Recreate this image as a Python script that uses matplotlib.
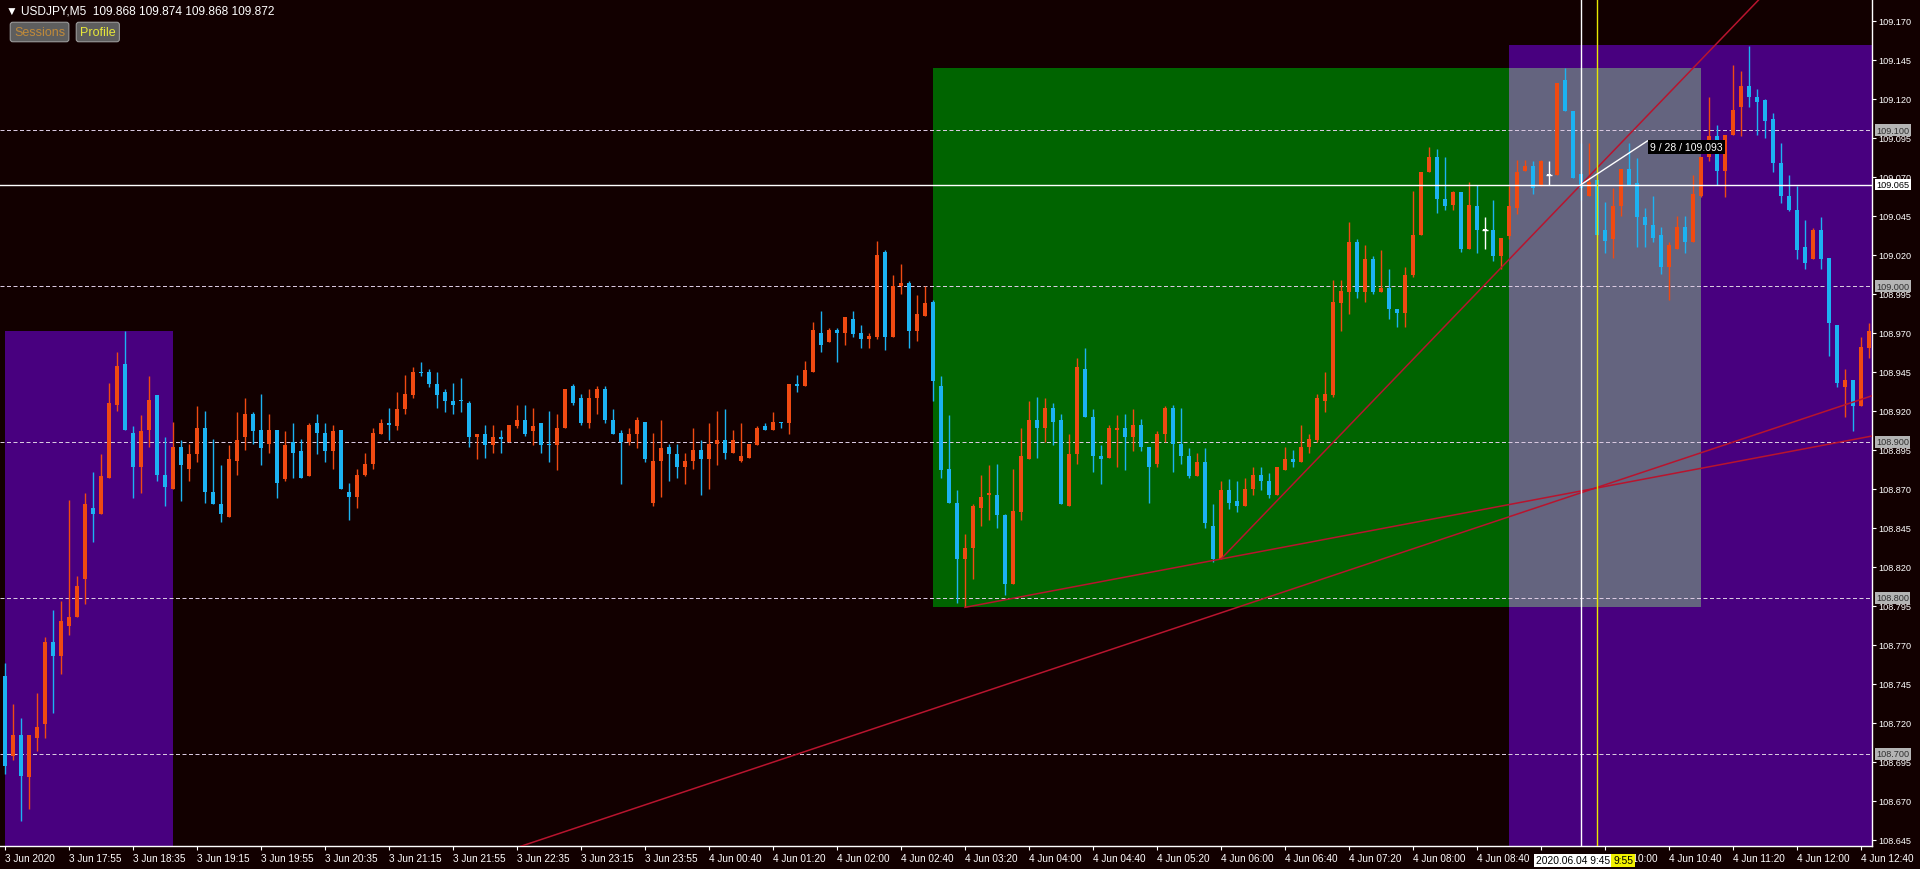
import matplotlib
matplotlib.use('Agg')
import matplotlib.pyplot as plt
from matplotlib.patches import Rectangle
from matplotlib.transforms import blended_transform_factory

plt.rcParams['font.family'] = ['Liberation Sans', 'DejaVu Sans']

# USDJPY M5 candles (bar 0 = 3 Jun 17:15)
opens = [108.750, 108.699, 108.712, 108.685, 108.710, 108.719, 108.772, 108.763, 108.782, 108.788,
         108.812, 108.858, 108.854, 108.877, 108.924, 108.950, 108.906, 108.884, 108.908, 108.930,
         108.879, 108.870, 108.897, 108.883, 108.892, 108.909, 108.868, 108.860, 108.852, 108.888,
         108.903, 108.918, 108.908, 108.899, 108.908, 108.876, 108.900, 108.894, 108.878, 108.912,
         108.906, 108.894, 108.908, 108.868, 108.865, 108.879, 108.886, 108.905, 108.912, 108.910,
         108.921, 108.930, 108.945, 108.945, 108.937, 108.932, 108.926, 108.927, 108.925, 108.903,
         108.905, 108.898, 108.903, 108.900, 108.910, 108.914, 108.907, 108.912, 108.899, 108.898,
         108.909, 108.936, 108.928, 108.912, 108.928, 108.934, 108.914, 108.906, 108.900, 108.905,
         108.913, 108.861, 108.888, 108.897, 108.892, 108.884, 108.888, 108.895, 108.889, 108.899,
         108.901, 108.893, 108.888, 108.890, 108.898, 108.910, 108.908, 108.913, 108.912, 108.937,
         108.936, 108.945, 108.970, 108.964, 108.972, 108.970, 108.979, 108.970, 108.966, 108.967,
         109.022, 108.967, 109.000, 109.002, 108.971, 108.981, 108.990, 108.936, 108.883, 108.861,
         108.825, 108.832, 108.858, 108.866, 108.866, 108.853, 108.809, 108.855, 108.889, 108.914,
         108.909, 108.922, 108.914, 108.859, 108.892, 108.947, 108.916, 108.891, 108.890, 108.908,
         108.909, 108.903, 108.911, 108.897, 108.886, 108.905, 108.922, 108.899, 108.891, 108.878,
         108.887, 108.846, 108.825, 108.869, 108.862, 108.859, 108.870, 108.879, 108.875, 108.866,
         108.882, 108.889, 108.887, 108.897, 108.901, 108.926, 108.930, 108.989, 108.996, 109.028,
         108.996, 109.017, 108.996, 108.999, 108.985, 108.983, 109.007, 109.033, 109.073, 109.083,
         109.056, 109.052, 109.060, 109.024, 109.051, 109.036, 109.036, 109.019, 109.032, 109.050,
         109.074, 109.077, 109.064, 109.071, 109.071, 109.132, 109.112, 109.072, 109.058, 109.068,
         109.036, 109.030, 109.051, 109.075, 109.066, 109.044, 109.039, 109.033, 109.012, 109.024,
         109.038, 109.028, 109.058, 109.083, 109.096, 109.074, 109.097, 109.115, 109.128, 109.121,
         109.119, 109.107, 109.079, 109.058, 109.049, 109.025, 109.017, 109.036, 109.018, 108.975,
         108.935, 108.940, 108.923, 108.960]
highs = [108.758, 108.732, 108.723, 108.712, 108.739, 108.775, 108.792, 108.798, 108.863, 108.814,
         108.867, 108.881, 108.892, 108.938, 108.958, 108.971, 108.910, 108.917, 108.942, 108.930,
         108.903, 108.913, 108.901, 108.899, 108.923, 108.920, 108.902, 108.885, 108.898, 108.919,
         108.928, 108.919, 108.931, 108.918, 108.908, 108.907, 108.912, 108.902, 108.912, 108.918,
         108.912, 108.911, 108.908, 108.874, 108.883, 108.893, 108.909, 108.915, 108.922, 108.932,
         108.943, 108.948, 108.951, 108.947, 108.945, 108.934, 108.938, 108.941, 108.926, 108.905,
         108.911, 108.911, 108.908, 108.911, 108.924, 108.924, 108.922, 108.912, 108.920, 108.918,
         108.934, 108.937, 108.931, 108.934, 108.936, 108.936, 108.921, 108.908, 108.909, 108.916,
         108.913, 108.906, 108.914, 108.899, 108.899, 108.893, 108.909, 108.901, 108.912, 108.920,
         108.921, 108.908, 108.912, 108.899, 108.910, 108.912, 108.919, 108.913, 108.937, 108.943,
         108.952, 108.977, 108.984, 108.973, 108.973, 108.980, 108.984, 108.975, 108.970, 109.029,
         109.023, 109.007, 109.014, 109.003, 108.994, 109.000, 108.991, 108.942, 108.917, 108.869,
         108.841, 108.860, 108.879, 108.885, 108.886, 108.854, 108.883, 108.909, 108.926, 108.929,
         108.928, 108.925, 108.918, 108.905, 108.954, 108.960, 108.921, 108.898, 108.911, 108.917,
         108.918, 108.921, 108.915, 108.897, 108.907, 108.923, 108.924, 108.922, 108.896, 108.893,
         108.896, 108.860, 108.875, 108.876, 108.875, 108.877, 108.884, 108.884, 108.880, 108.884,
         108.897, 108.895, 108.911, 108.905, 108.931, 108.945, 109.004, 109.004, 109.041, 109.030,
         109.026, 109.019, 109.023, 109.011, 108.985, 109.012, 109.061, 109.073, 109.089, 109.088,
         109.083, 109.061, 109.060, 109.067, 109.065, 109.044, 109.055, 109.031, 109.064, 109.081,
         109.081, 109.080, 109.081, 109.080, 109.130, 109.140, 109.112, 109.092, 109.092, 109.072,
         109.054, 109.063, 109.075, 109.092, 109.082, 109.050, 109.058, 109.038, 109.028, 109.045,
         109.045, 109.071, 109.083, 109.121, 109.103, 109.097, 109.142, 109.138, 109.154, 109.126,
         109.120, 109.111, 109.092, 109.071, 109.064, 109.042, 109.037, 109.044, 109.018, 108.975,
         108.947, 108.940, 108.967, 108.976]
lows = [108.687, 108.696, 108.657, 108.665, 108.702, 108.710, 108.726, 108.751, 108.776, 108.788,
        108.796, 108.836, 108.854, 108.877, 108.920, 108.908, 108.864, 108.867, 108.897, 108.875,
        108.859, 108.870, 108.862, 108.875, 108.887, 108.861, 108.860, 108.849, 108.852, 108.879,
        108.895, 108.899, 108.885, 108.893, 108.864, 108.875, 108.877, 108.877, 108.878, 108.892,
        108.887, 108.883, 108.870, 108.850, 108.858, 108.878, 108.883, 108.905, 108.901, 108.908,
        108.918, 108.928, 108.942, 108.935, 108.922, 108.919, 108.918, 108.919, 108.897, 108.889,
        108.890, 108.893, 108.893, 108.900, 108.909, 108.904, 108.898, 108.893, 108.887, 108.882,
        108.909, 108.924, 108.911, 108.909, 108.918, 108.912, 108.905, 108.873, 108.898, 108.896,
        108.887, 108.859, 108.865, 108.875, 108.877, 108.873, 108.883, 108.866, 108.870, 108.885,
        108.889, 108.893, 108.887, 108.890, 108.898, 108.908, 108.908, 108.909, 108.905, 108.932,
        108.936, 108.945, 108.958, 108.964, 108.951, 108.962, 108.967, 108.960, 108.960, 108.966,
        108.959, 108.967, 108.995, 108.960, 108.965, 108.981, 108.926, 108.877, 108.861, 108.797,
        108.794, 108.812, 108.846, 108.850, 108.845, 108.802, 108.809, 108.850, 108.889, 108.890,
        108.900, 108.898, 108.860, 108.859, 108.886, 108.916, 108.881, 108.873, 108.890, 108.884,
        108.882, 108.894, 108.894, 108.861, 108.884, 108.900, 108.881, 108.886, 108.877, 108.878,
        108.845, 108.823, 108.825, 108.857, 108.855, 108.859, 108.866, 108.869, 108.864, 108.866,
        108.882, 108.884, 108.887, 108.893, 108.900, 108.919, 108.929, 108.971, 108.982, 108.992,
        108.990, 108.995, 108.996, 108.979, 108.974, 108.974, 109.006, 109.033, 109.073, 109.047,
        109.049, 109.049, 109.022, 109.024, 109.021, 109.024, 109.016, 109.011, 109.030, 109.046,
        109.074, 109.059, 109.064, 109.065, 109.071, 109.112, 109.069, 109.055, 109.058, 109.033,
        109.021, 109.018, 109.045, 109.065, 109.025, 109.025, 109.028, 109.008, 108.991, 109.024,
        109.021, 109.028, 109.057, 109.080, 109.065, 109.057, 109.097, 109.096, 109.115, 109.097,
        109.095, 109.073, 109.053, 109.048, 109.017, 109.011, 109.017, 109.011, 108.955, 108.935,
        108.916, 108.907, 108.923, 108.954]
closes = [108.692, 108.712, 108.686, 108.712, 108.717, 108.772, 108.763, 108.785, 108.788, 108.808,
          108.860, 108.854, 108.878, 108.925, 108.949, 108.908, 108.884, 108.907, 108.927, 108.879,
          108.871, 108.897, 108.885, 108.892, 108.909, 108.868, 108.860, 108.854, 108.889, 108.901,
          108.918, 108.907, 108.896, 108.908, 108.874, 108.898, 108.893, 108.877, 108.911, 108.906,
          108.894, 108.907, 108.870, 108.865, 108.879, 108.886, 108.906, 108.912, 108.911, 108.921,
          108.931, 108.945, 108.944, 108.937, 108.930, 108.926, 108.924, 108.926, 108.903, 108.905,
          108.898, 108.903, 108.902, 108.911, 108.914, 108.905, 108.910, 108.898, 108.898, 108.909,
          108.934, 108.925, 108.912, 108.928, 108.934, 108.914, 108.905, 108.900, 108.905, 108.914,
          108.889, 108.888, 108.896, 108.892, 108.884, 108.888, 108.895, 108.889, 108.899, 108.901,
          108.893, 108.901, 108.891, 108.899, 108.909, 108.908, 108.913, 108.912, 108.937, 108.936,
          108.946, 108.972, 108.962, 108.972, 108.970, 108.980, 108.969, 108.966, 108.968, 109.020,
          108.967, 109.000, 109.002, 108.971, 108.982, 108.989, 108.939, 108.882, 108.861, 108.825,
          108.832, 108.859, 108.865, 108.867, 108.853, 108.809, 108.856, 108.891, 108.914, 108.909,
          108.922, 108.913, 108.860, 108.892, 108.948, 108.916, 108.891, 108.889, 108.909, 108.909,
          108.903, 108.911, 108.897, 108.884, 108.905, 108.922, 108.899, 108.891, 108.878, 108.887,
          108.848, 108.825, 108.869, 108.861, 108.859, 108.870, 108.879, 108.875, 108.866, 108.884,
          108.889, 108.887, 108.897, 108.902, 108.928, 108.931, 108.990, 108.997, 109.028, 108.996,
          109.017, 108.996, 108.999, 108.985, 108.983, 109.007, 109.033, 109.073, 109.083, 109.056,
          109.051, 109.060, 109.024, 109.052, 109.036, 109.036, 109.019, 109.031, 109.051, 109.073,
          109.077, 109.063, 109.080, 109.071, 109.130, 109.112, 109.069, 109.063, 109.067, 109.033,
          109.029, 109.051, 109.075, 109.065, 109.044, 109.039, 109.031, 109.012, 109.026, 109.038,
          109.028, 109.059, 109.083, 109.096, 109.074, 109.097, 109.113, 109.128, 109.121, 109.118,
          109.106, 109.079, 109.058, 109.049, 109.023, 109.015, 109.036, 109.017, 108.976, 108.938,
          108.940, 108.923, 108.961, 108.971]

# time axis labels (one every 8 bars)
time_labels = ['3 Jun 2020', '3 Jun 17:55', '3 Jun 18:35', '3 Jun 19:15', '3 Jun 19:55',
               '3 Jun 20:35', '3 Jun 21:15', '3 Jun 21:55', '3 Jun 22:35', '3 Jun 23:15',
               '3 Jun 23:55', '4 Jun 00:40', '4 Jun 01:20', '4 Jun 02:00', '4 Jun 02:40',
               '4 Jun 03:20', '4 Jun 04:00', '4 Jun 04:40', '4 Jun 05:20', '4 Jun 06:00',
               '4 Jun 06:40', '4 Jun 07:20', '4 Jun 08:00', '4 Jun 08:40', '4 Jun 09:20',
               '4 Jun 10:00', '4 Jun 10:40', '4 Jun 11:20', '4 Jun 12:00', '4 Jun 12:40']

price_ticks = [109.170, 109.145, 109.120, 109.095, 109.070, 109.045, 109.020, 108.995,
               108.970, 108.945, 108.920, 108.895, 108.870, 108.845, 108.820, 108.795,
               108.770, 108.745, 108.720, 108.695, 108.670, 108.645]
level_lines = [109.100, 109.000, 108.900, 108.800, 108.700]

# session boxes: (first bar, last bar, low, high)
session_left = (0, 21, 108.500, 108.971)
session_green = (116, 212, 108.794, 109.140)
session_right = (188, 240, 108.500, 109.1545)

# trend lines: two anchor points (bar, price)
trend_a = [(120, 108.794), (152, 108.825)]
trend_b = [(152, 108.825), (197, 109.065)]
trend_c = [(64, 108.640), (233, 108.929)]

cross_bar, cross_price = 197, 109.065
marker_bar = 199
measure_end = (205.3, 109.093)

BG = '#120000'
UP = '#F04A12'
DOWN = '#1CB2F2'
INDIGO = '#48007F'
GREEN = '#006400'
OVERLAP = '#64647F'
TREND = '#B8142E'
LEVEL = '#D8C8E0'

fig = plt.figure(figsize=(19.2, 8.7), dpi=100, facecolor=BG)
ax = fig.add_axes([0, 23 / 870, 1872 / 1920, 1 - 23 / 870])
ax.set_facecolor(BG)
ax.set_xlim(-0.625, 233.375)
ax.set_ylim(108.641, 109.184)

# session rectangles
for (x0, x1, lo, hi), col in [(session_left, INDIGO), (session_green, GREEN), (session_right, INDIGO)]:
    ax.add_patch(Rectangle((x0, lo), x1 - x0, hi - lo, facecolor=col, edgecolor='none', zorder=1))
ov_x0 = session_right[0]
ov_x1 = session_green[1]
ax.add_patch(Rectangle((ov_x0, session_green[2]), ov_x1 - ov_x0, session_green[3] - session_green[2],
                       facecolor=OVERLAP, edgecolor='none', zorder=1.1))

for lvl in level_lines:
    ax.axhline(lvl, color=LEVEL, lw=0.72, ls=(0, (4, 2.5)), zorder=2)

# candles
xs = list(range(len(opens)))
cols = []
for o, c in zip(opens, closes):
    if c > o:
        cols.append(UP)
    elif c < o:
        cols.append(DOWN)
    else:
        cols.append('white')
ax.vlines(xs, lows, highs, colors=cols, lw=1.0, zorder=3)
body_lo = [min(o, c) for o, c in zip(opens, closes)]
body_h = [max(abs(c - o), 0.0008) for o, c in zip(opens, closes)]
ax.bar(xs, body_h, bottom=body_lo, width=0.6, color=cols, edgecolor='none', zorder=4)
for i, col in enumerate(cols):
    if col == 'white':
        ax.hlines(opens[i], i - 0.35, i + 0.35, colors='white', lw=1.0, zorder=4)

# trend lines
def draw_ray(pts, both=False):
    (x1, y1), (x2, y2) = pts
    k = (y2 - y1) / (x2 - x1)
    xa = -5 if both else x1
    xb = 260
    ax.plot([xa, xb], [y1 + k * (xa - x1), y1 + k * (xb - x1)], color=TREND, lw=1.1, zorder=5)

draw_ray(trend_a)
draw_ray(trend_b)
draw_ray(trend_c, both=True)

# crosshair
ax.axhline(cross_price, color='white', lw=1.0, zorder=6)
ax.axvline(cross_bar, color='white', lw=1.0, zorder=6)
ax.axvline(marker_bar, color='#E8E800', lw=1.0, zorder=6)
ax.plot([cross_bar, measure_end[0]], [cross_price, measure_end[1]], color='white', lw=1.0, zorder=6)
ax.text(measure_end[0] + 0.3, measure_end[1] - 0.0005, '9 / 28 / 109.093', color='white', fontsize=7.5,
        ha='left', va='top', zorder=7,
        bbox=dict(boxstyle='square,pad=0.2', fc='black', ec='none'))

# axes styling
for s in ['left', 'top']:
    ax.spines[s].set_visible(False)
for s in ['right', 'bottom']:
    ax.spines[s].set_color('white')
    ax.spines[s].set_linewidth(1.0)

ax.yaxis.tick_right()
ax.set_yticks(price_ticks)
ax.set_yticklabels(['%.3f' % p for p in price_ticks])
ax.tick_params(axis='y', colors='white', labelsize=6.6, length=3, width=0.8, pad=1.5, direction='out')

ax.set_xticks(range(0, 233, 8))
ax.set_xticklabels(time_labels, ha='left')
ax.tick_params(axis='x', colors='white', labelsize=7.2, length=3, width=0.8, pad=2, direction='out')
# the 09:20 label sits under the crosshair time box
ax.get_xticklabels()[24].set_visible(False)

yt = blended_transform_factory(ax.transAxes, ax.transData)
for lvl in level_lines:
    ax.text(1.0 + 4 / 1872, lvl, '%.3f' % lvl, transform=yt, ha='left', va='center', fontsize=6.6,
            color='#303030', zorder=8, clip_on=False,
            bbox=dict(boxstyle='square,pad=0.15', fc='#B4B4B4', ec='none'))
ax.text(1.0 + 4 / 1872, cross_price, '%.3f' % cross_price, transform=yt, ha='left', va='center',
        fontsize=6.6, color='black', zorder=8, clip_on=False,
        bbox=dict(boxstyle='square,pad=0.15', fc='white', ec='none'))

xt = blended_transform_factory(ax.transData, ax.transAxes)
ax.text(200.6, -0.011, '2020.06.04 9:45', transform=xt, ha='right', va='top', fontsize=7.4,
        color='black', zorder=9, clip_on=False,
        bbox=dict(boxstyle='square,pad=0.15', fc='white', ec='none'))
ax.text(201.0, -0.011, '9:55', transform=xt, ha='left', va='top', fontsize=7.4,
        color='black', zorder=10, clip_on=False,
        bbox=dict(boxstyle='square,pad=0.15', fc='#F0F000', ec='none'))

# header and buttons
fig.text(6 / 1920, 1 - 11 / 870, '\u25bc USDJPY,M5  109.868 109.874 109.868 109.872', color='white',
         fontsize=8.6, ha='left', va='center')
fig.text(14 / 1920, 1 - 33 / 870, 'Sessions', color='#C08A3A', fontsize=9, ha='left', va='center',
         bbox=dict(boxstyle='round,pad=0.3,rounding_size=0.2', fc='#5E5E5E', ec='#9A9A9A', lw=0.8))
fig.text(80 / 1920, 1 - 33 / 870, 'Profile', color='#E8E83A', fontsize=9, ha='left', va='center',
         bbox=dict(boxstyle='round,pad=0.3,rounding_size=0.2', fc='#5E5E5E', ec='#9A9A9A', lw=0.8))

fig.savefig('out.png', dpi=100, facecolor=BG)
